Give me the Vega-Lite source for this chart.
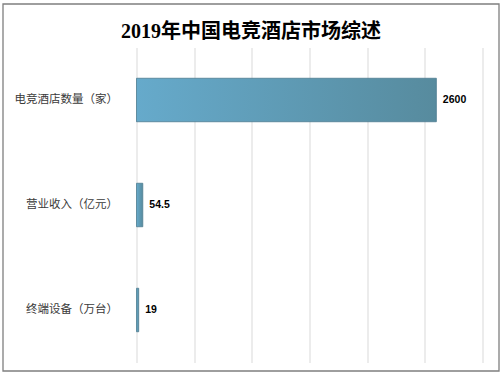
{
  "$schema": "https://vega.github.io/schema/vega-lite/v6.json",
  "autosize": "none",
  "width": 346,
  "height": 315,
  "padding": {"left": 136.5, "top": 47.5, "right": 21.5, "bottom": 15.5},
  "background": "white",
  "title": {
    "text": "2019年中国电竞酒店市场综述",
    "font": "Liberation Serif, Noto Sans CJK SC",
    "fontSize": 20,
    "fontWeight": "bold",
    "color": "#000000",
    "anchor": "middle",
    "frame": "group",
    "dx": -58.5,
    "offset": -39
  },
  "data": {
    "values": [
      {"category": "电竞酒店数量（家）", "value": 2600, "label": "2600"},
      {"category": "营业收入（亿元）", "value": 54.5, "label": "54.5"},
      {"category": "终端设备（万台）", "value": 19, "label": "19"}
    ]
  },
  "layer": [
    {
      "data": {"values": [{"frame": 1}]},
      "mark": {"type": "rect", "fill": null, "stroke": "#7f7f7f", "strokeWidth": 1.3,
        "x": -133.5, "x2": 362.5, "y": -43.5, "y2": 323.5}
    },
    {
      "mark": {
        "type": "bar",
        "color": {
          "gradient": "linear", "x1": 0, "y1": 0, "x2": 1, "y2": 0,
          "stops": [{"offset": 0, "color": "#66aacb"}, {"offset": 1, "color": "#578b9e"}]
        },
        "stroke": "#4e7c90",
        "strokeWidth": 0.8
      },
      "encoding": {
        "y": {
          "field": "category", "type": "nominal", "sort": null,
          "scale": {"paddingInner": 0.586, "paddingOuter": 0.293},
          "axis": {"title": null, "ticks": false, "domain": false, "labelPadding": 19,
            "labelFont": "Noto Sans CJK SC", "labelFontSize": 11.5, "labelColor": "#3a3a3a"}
        },
        "x": {
          "field": "value", "type": "quantitative",
          "scale": {"domain": [0, 3000], "nice": false},
          "axis": {"title": null, "labels": false, "ticks": false, "domain": false,
            "values": [0, 500, 1000, 1500, 2000, 2500, 3000], "grid": true,
            "gridColor": "#d9d9d9", "gridWidth": 1}
        }
      }
    },
    {
      "mark": {"type": "text", "align": "left", "baseline": "middle", "dx": 6.5,
        "font": "Liberation Sans", "fontSize": 10.5, "fontWeight": "bold", "color": "#000000"},
      "encoding": {
        "y": {"field": "category", "type": "nominal", "sort": null},
        "x": {"field": "value", "type": "quantitative"},
        "text": {"field": "label"}
      }
    }
  ],
  "config": {"view": {"stroke": null}}
}
